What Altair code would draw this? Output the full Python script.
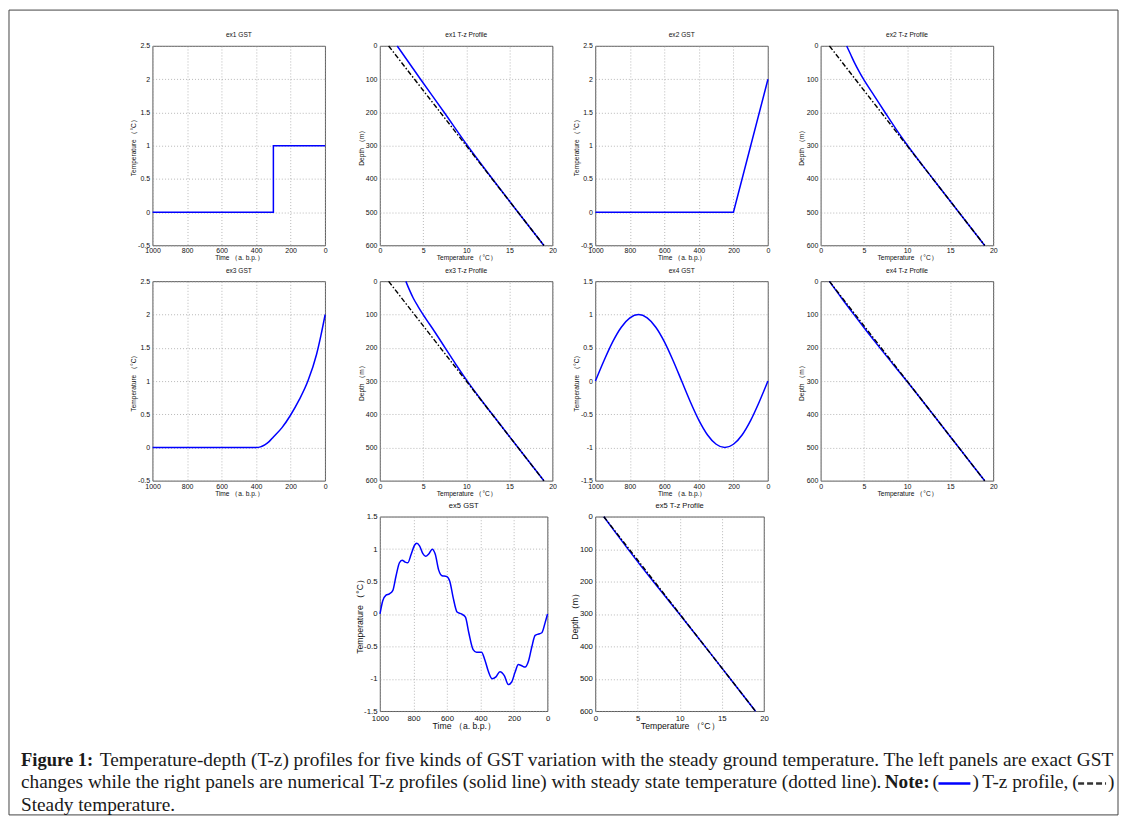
import altair as alt
import pandas as pd

# ---------------- data ----------------
TIME_TICKS = [1000, 800, 600, 400, 200, 0]
GST_TICKS_A = [-0.5, 0, 0.5, 1, 1.5, 2, 2.5]
GST_TICKS_B = [-1.5, -1, -0.5, 0, 0.5, 1, 1.5]
TZ_T_TICKS = [0, 5, 10, 15, 20]
DEPTH_TICKS = [0, 100, 200, 300, 400, 500, 600]

STEADY_DEPTH = [0, 600]
STEADY_T = [1, 19]

ex1_gst_time = [1000, 300, 300, 0]
ex1_gst_temp = [0, 0, 1, 1]
ex1_tz_depth = [0, 100, 200, 300, 400, 500, 600]
ex1_tz_temp = [2.0, 4.7, 7.45, 10.15, 13.04, 16.0, 19.0]

ex2_gst_time = [1000, 200, 100, 0]
ex2_gst_temp = [0, 0, 1.0, 2.0]
ex2_tz_depth = [0, 25, 50, 75, 100, 150, 200, 250, 300, 400, 500, 600]
ex2_tz_temp = [3.0, 3.45, 3.9, 4.4, 4.95, 6.2, 7.45, 8.72, 10.08, 13.01, 16.0, 19.0]

ex3_gst_time = [1000, 400, 375, 350, 325, 300, 250, 200, 150, 100, 50, 25, 0]
ex3_gst_temp = [0, 0, 0.01, 0.04, 0.09, 0.16, 0.30, 0.49, 0.72, 1.0, 1.4, 1.68, 2.0]
ex3_tz_depth = [0, 25, 50, 75, 100, 150, 200, 250, 300, 350, 400, 500, 600]
ex3_tz_temp = [3.0, 3.4, 3.85, 4.4, 5.0, 6.3, 7.55, 8.8, 10.12, 11.54, 13.02, 16.0, 19.0]

ex4_gst_time = [1000, 950, 900, 850, 800, 750, 700, 650, 600, 550, 500,
                450, 400, 350, 300, 250, 200, 150, 100, 50, 0]
ex4_gst_temp = [0, 0.31, 0.59, 0.81, 0.95, 1.0, 0.95, 0.81, 0.59, 0.31, 0,
                -0.31, -0.59, -0.81, -0.95, -1.0, -0.95, -0.81, -0.59, -0.31, 0]
ex4_tz_depth = [0, 50, 100, 150, 200, 250, 300, 400, 500, 600]
ex4_tz_temp = [1.0, 2.4, 3.85, 5.33, 6.85, 8.4, 9.96, 13.0, 16.0, 19.0]

ex5_gst_time = [1000, 984, 964, 944, 924, 904, 884, 868, 850, 834, 814, 794, 780, 764,
                744, 728, 708, 688, 670, 650, 630, 604, 584, 564, 540, 514, 490, 470,
                444, 424, 394, 374, 354, 330, 308, 284, 258, 234, 214, 194, 174, 154,
                134, 114, 94, 74, 54, 34, 14, 0]
ex5_gst_temp = [0, 0.2, 0.29, 0.31, 0.36, 0.59, 0.79, 0.83, 0.80, 0.79, 0.92, 1.06, 1.09, 1.05,
                0.93, 0.89, 0.93, 1.0, 0.92, 0.68, 0.59, 0.58, 0.51, 0.26, 0.03, 0.0, -0.05, -0.29,
                -0.55, -0.59, -0.59, -0.71, -0.88, -1.0, -0.97, -0.89, -0.95, -1.09, -1.05, -0.9,
                -0.78, -0.8, -0.82, -0.73, -0.51, -0.33, -0.31, -0.29, -0.13, 0]
ex5_tz_depth = [0, 50, 100, 150, 200, 250, 300, 400, 500, 600]
ex5_tz_temp = [1.0, 2.42, 3.87, 5.35, 6.87, 8.42, 9.97, 13.0, 16.0, 19.0]

CAPTION_1_BOLD = "Figure 1:"
CAPTION_1 = ("Temperature-depth (T-z) profiles for five kinds of GST variation with the steady "
             "ground temperature. The left panels are exact GST")
CAPTION_2 = ("changes while the right panels are numerical T-z profiles (solid line) with steady "
             "state temperature (dotted line).")
CAPTION_2_BOLD = "Note:"
CAPTION_2_OPEN = "("
CAPTION_2_CLOSE = ")"
CAPTION_2_MID = "T-z profile,"
CAPTION_3 = "Steady temperature."

# ---------------- styling ----------------
FONT = "Liberation Sans"
SERIF = "Liberation Serif"
BLUE = "#0000ff"
TXT = "#111111"
SMALL = dict(lab=7, tit=6.6, head=6.6, xlp=1.5, xtp=1, ylp=3, ytp=1)
LARGE = dict(lab=7.8, tit=8.7, head=7.6, xlp=3, xtp=0, ylp=3, ytp=0)


def common_axis(f):
    return dict(labelFontSize=f["lab"], titleFontSize=f["tit"], labelFont=FONT,
                titleFont=FONT, labelColor=TXT, titleColor=TXT, titleFontWeight="normal",
                ticks=False, domain=False, gridColor="#9a9a9a", gridDash=[1, 2],
                gridWidth=0.7, labelFlush=False, labelOverlap=False,
                labelExpr="'' + datum.value")


def head(text, f):
    return alt.TitleParams(text, fontSize=f["head"], font=FONT, fontWeight="normal",
                           color=TXT, offset=3)


def gst_panel(title, times, temps, yticks, w, h, f, ext, interp):
    df = pd.DataFrame({"t": times, "T": temps, "i": list(range(len(times)))})
    return alt.Chart(df).mark_line(color=BLUE, strokeWidth=1.5, interpolate=interp).encode(
        x=alt.X("t:Q", scale=alt.Scale(domain=[1000, 0], nice=False, zero=False),
                axis=alt.Axis(values=TIME_TICKS, title="Time （a. b.p.）",
                              labelPadding=f["xlp"], titlePadding=f["xtp"], **common_axis(f))),
        y=alt.Y("T:Q", scale=alt.Scale(domain=[yticks[0], yticks[-1]], nice=False, zero=False),
                axis=alt.Axis(values=yticks, title="Temperature （°C）",
                              labelPadding=f["ylp"], titlePadding=f["ytp"],
                              minExtent=ext, maxExtent=ext, **common_axis(f))),
        order="i:Q",
    ).properties(width=w, height=h, title=head(title, f))


def tz_panel(title, depth, temp, w, h, f, ext):
    xenc = alt.X("T:Q", scale=alt.Scale(domain=[0, 20], nice=False),
                 axis=alt.Axis(values=TZ_T_TICKS, title="Temperature （°C）",
                               labelPadding=f["xlp"], titlePadding=f["xtp"], **common_axis(f)))
    yenc = alt.Y("z:Q", scale=alt.Scale(domain=[0, 600], nice=False, reverse=True),
                 axis=alt.Axis(values=DEPTH_TICKS, title="Depth （m）",
                               labelPadding=f["ylp"], titlePadding=f["ytp"],
                               minExtent=ext, maxExtent=ext, **common_axis(f)))
    blue = alt.Chart(pd.DataFrame({"z": depth, "T": temp})).mark_line(
        color=BLUE, strokeWidth=1.5, interpolate="monotone").encode(x=xenc, y=yenc, order="z:Q")
    steady = alt.Chart(pd.DataFrame({"z": STEADY_DEPTH, "T": STEADY_T})).mark_line(
        color="black", strokeWidth=1.4, strokeDash=[5, 2, 1.5, 2]).encode(x=xenc, y=yenc, order="z:Q")
    return alt.layer(blue, steady).properties(width=w, height=h, title=head(title, f))


W, H = 173, 200
p1 = gst_panel("ex1 GST", ex1_gst_time, ex1_gst_temp, GST_TICKS_A, W, H, SMALL, 15, "linear")
p2 = tz_panel("ex1 T-z Profile", ex1_tz_depth, ex1_tz_temp, W, H, SMALL, 15)
p3 = gst_panel("ex2 GST", ex2_gst_time, ex2_gst_temp, GST_TICKS_A, W, H, SMALL, 15, "linear")
p4 = tz_panel("ex2 T-z Profile", ex2_tz_depth, ex2_tz_temp, W, H, SMALL, 15)
p5 = gst_panel("ex3 GST", ex3_gst_time, ex3_gst_temp, GST_TICKS_A, W, H, SMALL, 15, "monotone")
p6 = tz_panel("ex3 T-z Profile", ex3_tz_depth, ex3_tz_temp, W, H, SMALL, 15)
p7 = gst_panel("ex4 GST", ex4_gst_time, ex4_gst_temp, GST_TICKS_B, W, H, SMALL, 15, "monotone")
p8 = tz_panel("ex4 T-z Profile", ex4_tz_depth, ex4_tz_temp, W, H, SMALL, 15)
p9 = gst_panel("ex5 GST", ex5_gst_time, ex5_gst_temp, GST_TICKS_B, 168, 195, LARGE, 16, "monotone")
p10 = tz_panel("ex5 T-z Profile", ex5_tz_depth, ex5_tz_temp, 169, 195, LARGE, 16)

NO_FRAME = alt.ViewBackground(stroke="transparent")
one = alt.Data(values=[{"k": 0}])


def sp(w, h=1):
    return alt.Chart(one).mark_point(opacity=0).encode(
        x=alt.value(0), y=alt.value(0)).properties(width=w, height=h, view=NO_FRAME)


# caption block (its origin is at the left of the first column, below the last row)
OX, OY = 152, 747
CAP_SIZE = 19.35
L1, L2, L3 = 759.5, 782.5, 805


def txt(text, x, y, bold=False, color="#1a1a1a", size=CAP_SIZE):
    return alt.Chart(one).mark_text(
        text=text, font=SERIF, fontSize=size, fontWeight="bold" if bold else "normal",
        color=color, align="left", baseline="middle").encode(
        x=alt.value(x - OX), y=alt.value(y - OY))


frame = alt.Chart(one).mark_rect(fillOpacity=0, stroke="#444444", strokeWidth=1).encode(
    x=alt.value(8 - OX), x2=alt.value(1120 - OX), y=alt.value(8 - OY), y2=alt.value(815 - OY))
glyph_solid = alt.Chart(one).mark_rule(color=BLUE, strokeWidth=2.5).encode(
    x=alt.value(940 - OX), x2=alt.value(972 - OX), y=alt.value(L2 + 1 - OY))
glyph_dash = alt.Chart(one).mark_rule(color="#333333", strokeWidth=2.5, strokeDash=[6, 3]).encode(
    x=alt.value(1080 - OX), x2=alt.value(1108 - OX), y=alt.value(L2 + 1 - OY))

caption = alt.layer(
    frame,
    txt(CAPTION_1_BOLD, 20, L1, bold=True, size=18.6),
    txt(CAPTION_1, 99, L1),
    txt(CAPTION_2, 20, L2),
    txt(CAPTION_2_BOLD, 886, L2, bold=True),
    txt(CAPTION_2_OPEN, 934, L2),
    glyph_solid,
    txt(CAPTION_2_CLOSE, 974, L2),
    txt(CAPTION_2_MID, 984, L2),
    txt(CAPTION_2_OPEN, 1074, L2),
    glyph_dash,
    txt(CAPTION_2_CLOSE, 1110, L2),
    txt(CAPTION_3, 20, L3),
).properties(width=1, height=10, view=NO_FRAME)

cells = [
    p1, sp(55), p2, sp(43), p3, sp(53), p4,
    p5, sp(55), p6, sp(43), p7, sp(53), p8,
    sp(1), sp(1), p9, sp(1), p10, sp(1), sp(1),
    caption, sp(1), sp(1), sp(1), sp(1), sp(1), sp(1),
]

chart = alt.concat(
    *cells, columns=7, spacing={"row": 36, "column": 0}, bounds="flush", align="each",
).properties(padding=0, background="white").configure_view(stroke="#333333", strokeWidth=0.8)

chart.save("out.html", embed_options={"renderer": "svg", "actions": False})
